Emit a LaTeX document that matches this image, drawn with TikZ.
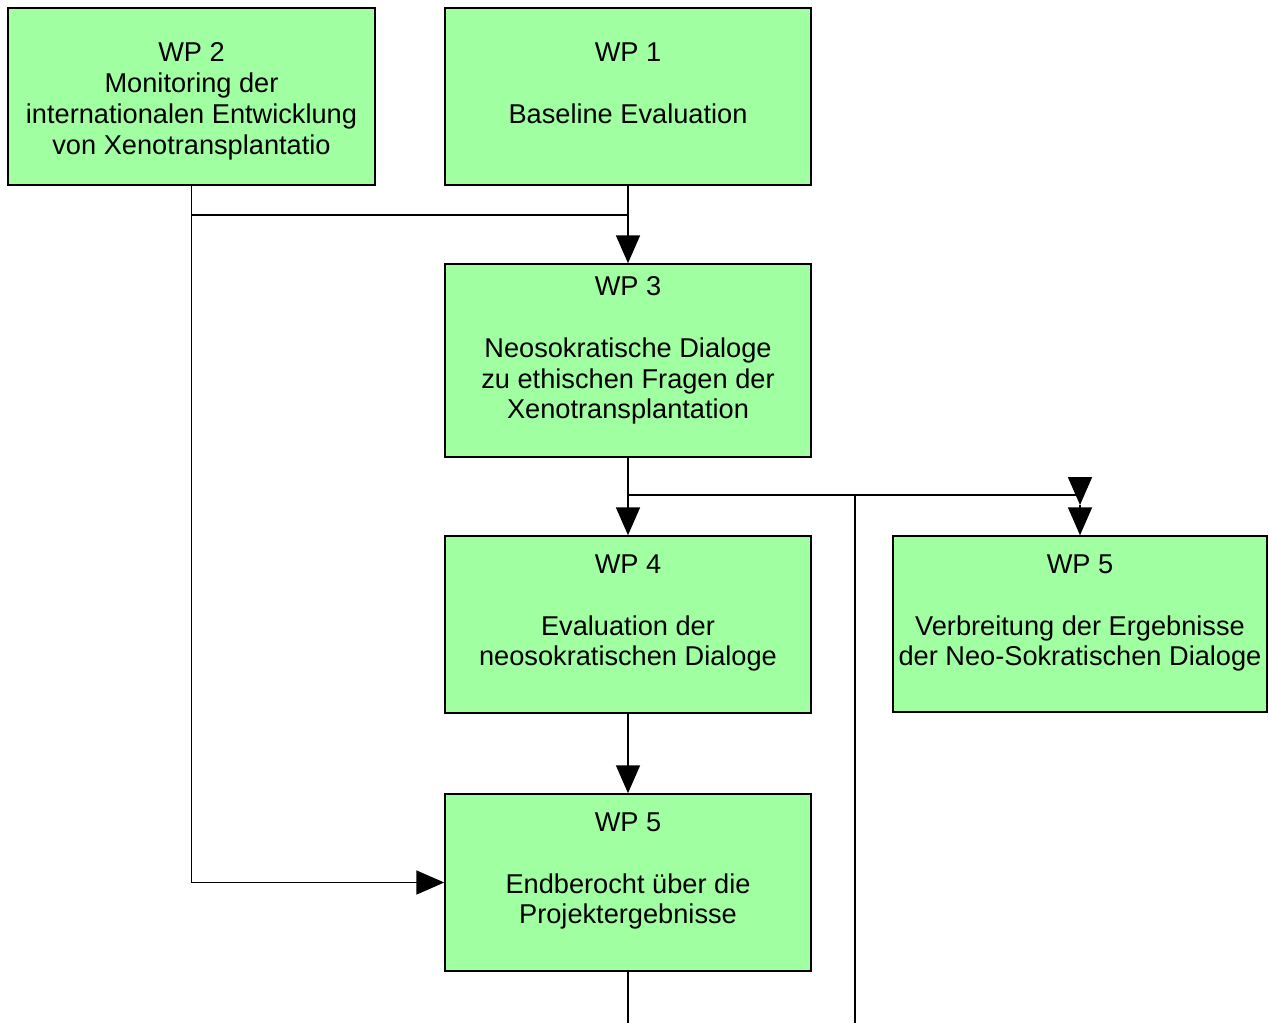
\documentclass[tikz,border=0pt]{standalone}
\usepackage{fontspec}
\setmainfont{Liberation Sans}
\usetikzlibrary{arrows.meta}
\definecolor{boxgreen}{RGB}{160,255,160}
\begin{document}
\begin{tikzpicture}[x=1pt,y=-1pt,
  wpbox/.style={draw=black,fill=boxgreen,line width=1.5pt,rectangle,inner sep=0pt},
  wptext/.style={anchor=north,inner sep=0pt,align=center,font=\fontsize{27.2}{30.8}\selectfont},
  conn/.style={line width=1.8pt,black},
  arr/.style={conn,-{Triangle[length=28pt,width=24pt]}}]
\useasboundingbox[fill=white] (0,0) rectangle (1269,1023);
% boxes
\node[wpbox,minimum width=367pt,minimum height=177pt] (wp2) at (191.5,96.5) {};
\node[wpbox,minimum width=366pt,minimum height=177pt] (wp1) at (628,96.5) {};
\node[wpbox,minimum width=366pt,minimum height=193pt] (wp3) at (628,360.5) {};
\node[wpbox,minimum width=366pt,minimum height=177pt] (wp4) at (628,624.5) {};
\node[wpbox,minimum width=374pt,minimum height=176pt] (wp5r) at (1080,624) {};
\node[wpbox,minimum width=366pt,minimum height=177pt] (wp5b) at (628,882.5) {};
% texts
\node[wptext] (t2) at (191.5,42.5) {WP 2\\Monitoring der\\internationalen Entwicklung\\von Xenotransplantatio};
\node[wptext] (t1) at (628,42.5) {WP 1\\{}\\Baseline Evaluation};
\node[wptext] (t3) at (628,276.5) {WP 3\\{}\\Neosokratische Dialoge\\zu ethischen Fragen der\\Xenotransplantation};
\node[wptext] (t4) at (628,554.5) {WP 4\\{}\\Evaluation der\\neosokratischen Dialoge};
\node[wptext] (t5r) at (1080,554.5) {WP 5\\{}\\Verbreitung der Ergebnisse\\der Neo-Sokratischen Dialoge};
\node[wptext] (t5b) at (628,812.5) {WP 5\\{}\\Endberocht über die\\Projektergebnisse};
% coordinates
\coordinate (j1) at (628,215);
\coordinate (j2) at (628,495);
\coordinate (j3) at (855,495);
\coordinate (c1) at (1080,495);
\coordinate (c2) at (1080,505);
\coordinate (b1) at (855,1023);
\coordinate (b2) at (628,1023);
% connectors
\draw[arr] (wp1.south) -- (wp3.north);
\draw[conn] (wp2.south) |- (j1);
\draw[arr] (wp2.south) |- (wp5b.west);
\draw[arr] (wp3.south) -- (wp4.north);
\draw[conn] (j2) -- (c1);
\draw[arr] (c1) -- (c2);
\draw[arr] (c2) -- (wp5r.north);
\draw[conn] (j3) -- (b1);
\draw[arr] (wp4.south) -- (wp5b.north);
\draw[conn] (wp5b.south) -- (b2);
\end{tikzpicture}
\end{document}
